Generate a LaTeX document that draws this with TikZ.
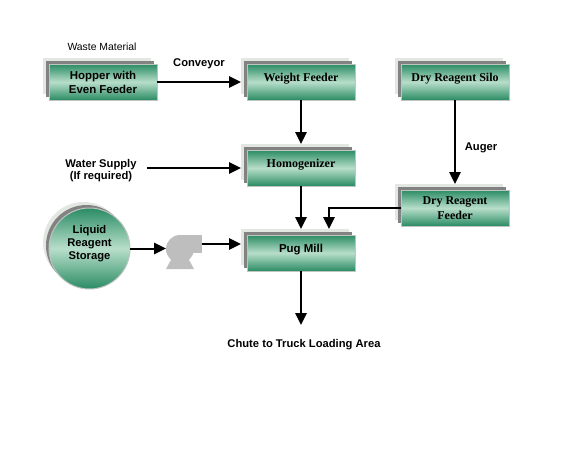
\documentclass[tikz,border=0pt]{standalone}
\usepackage{fontspec}
\setmainfont{Liberation Serif}
\setsansfont{Liberation Sans}
\usetikzlibrary{arrows.meta,positioning,shadows,calc}
\definecolor{pyedge}{RGB}{190,196,192}
\definecolor{pydark}{RGB}{42,140,100}
\definecolor{pylight}{RGB}{184,222,202}
\definecolor{pymid}{RGB}{130,130,130}
\definecolor{pyback}{RGB}{226,231,226}
\definecolor{pypump}{RGB}{190,190,190}
\tikzset{
  stack/.style={
    draw=pyedge, line width=0.75pt, outer sep=0pt, inner sep=0pt, align=center,
    top color=pydark, bottom color=pydark, middle color=pylight,
    copy shadow={draw=none, fill=pyback, shadow xshift=-4.5pt, shadow yshift=4.5pt},
    copy shadow={draw=none, fill=pymid, shadow xshift=-2.25pt, shadow yshift=2.25pt}
  },
  unitbox/.style={stack, minimum width=81pt, minimum height=27pt, font=\fontsize{9}{11}\selectfont\bfseries},
  sansbox/.style={unitbox, font=\fontsize{8.6}{10.5}\selectfont\sffamily\bfseries},
  oneline/.style={text depth=7.5pt},
  tank/.style={stack, circle, minimum size=60.75pt, font=\fontsize{8.4}{9.75}\selectfont\sffamily\bfseries},
  lbl/.style={font=\fontsize{8.4}{9}\selectfont\sffamily\bfseries, align=center, inner sep=0pt, outer sep=0pt},
  note/.style={font=\fontsize{7.8}{8}\selectfont\sffamily, align=center, inner sep=0pt},
  arr/.style={-{Triangle[length=9pt,width=8.5pt]}, draw=black, line width=1.5pt},
  barr/.style={arr, shorten >=4.5pt}
}
\begin{document}
\begin{tikzpicture}[x=0.75pt,y=-0.75pt]
  \useasboundingbox (0,0) rectangle (569,455);
  \node[sansbox] (hopper) at (103,82) {Hopper with\\Even Feeder};
  \node[unitbox, oneline, right=67.5pt of hopper] (weight) {Weight Feeder};
  \node[unitbox, oneline, below=37.5pt of weight] (homog) {Homogenizer};
  \node[sansbox, oneline, below=36.75pt of homog] (pug) {Pug Mill};
  \node[unitbox, oneline, right=34.5pt of weight] (silo) {Dry Reagent Silo};
  \node[unitbox, below=67.5pt of silo] (feeder) {Dry Reagent\\Feeder};
  \node[tank] (liquid) at (89.5,248.5) {Liquid\\Reagent\\Storage\\[0pt]};
  \node[note] (waste) at (102,47) {Waste Material};
  \node[lbl] (conveyor) at (199,64) {Conveyor};
  \node[lbl] (auger) at (481,148) {Auger};
  \node[lbl, minimum width=69pt] (water) at (101,171) {Water Supply\\(If required)};
  \node[lbl, minimum height=30pt] (chute) at (304,345) {Chute to Truck Loading Area};
  % pump
  \node[minimum width=27pt, minimum height=25.5pt, inner sep=0pt, outer sep=0pt] (pump) at (184,252) {};
  \fill[pypump] (180,249) circle (14);
  \fill[pypump] (180,235) rectangle (202,253);
  \fill[pypump] (172,258) -- (188,258) -- (194,269) -- (166,269) -- cycle;
  \coordinate (pumpin) at (pump.west |- liquid.east);
  \coordinate (pumpout) at (202,244);
  \coordinate (pugin) at (329,235);
  \draw[barr] (hopper) -- (weight);
  \draw[barr] (weight) -- (homog);
  \draw[barr] (homog) -- (pug);
  \draw[barr] (water.east |- homog) -- (homog);
  \draw[barr] (silo) -- (feeder);
  \draw[barr] (feeder.west) -| (pugin);
  \draw[arr] (liquid.east) -- (pumpin);
  \draw[barr] (pumpout) -- (pumpout -| pug.west);
  \draw[arr] (pug.south) -- (pug.south |- chute.north);
\end{tikzpicture}
\end{document}
